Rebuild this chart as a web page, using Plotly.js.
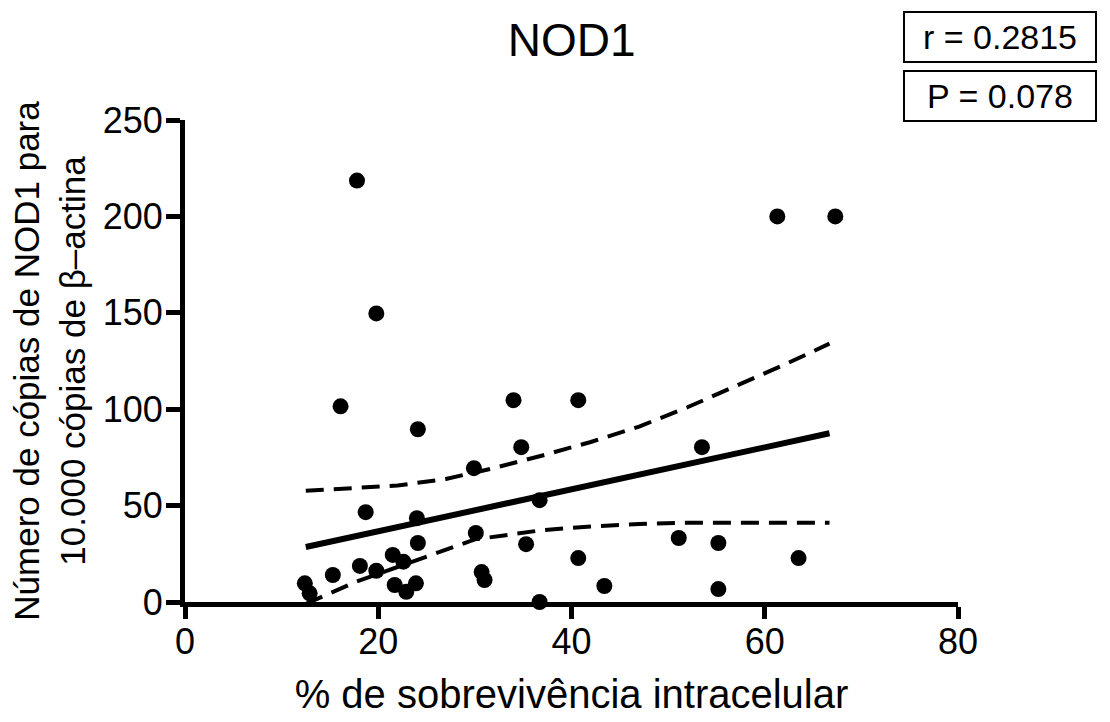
<!DOCTYPE html>
<html>
<head>
<meta charset="utf-8">
<script src="https://cdn.plot.ly/plotly-3.0.1.min.js"></script>
<style>html,body{margin:0;padding:0;background:#fff;}#chart{width:1110px;height:722px;}</style>
</head>
<body>
<div id="chart"></div>
<script>
// Scatter data: % intracellular survival vs NOD1 copies
const survival = [17.8, 19.8, 16.1, 61.3, 67.3, 24.1, 34.0, 40.7, 34.8, 53.5, 29.9, 36.7, 18.7, 24.0, 30.1, 24.1, 35.3, 51.1, 55.2, 40.7, 63.5, 30.7, 31.0, 43.4, 55.2, 36.7, 12.4, 12.9, 15.3, 18.1, 19.8, 21.5, 22.6, 21.7, 23.9, 22.9];
const nod1Copies = [218.6, 149.7, 101.5, 200, 200, 89.6, 104.7, 104.7, 80.3, 80.3, 69.4, 52.8, 46.6, 43.5, 35.8, 30.6, 30.0, 33.2, 30.6, 22.8, 22.8, 15.5, 11.4, 8.3, 6.7, 0, 9.7, 4.5, 14.0, 18.7, 16.2, 24.4, 20.9, 8.8, 9.7, 5.3];

// Regression line
const fitX = [12.5, 66.7];
const fitY = [28.5, 87.5];

// 95% confidence band
const upperX = [12.5, 17, 22, 27, 32, 37, 42, 47, 52, 57, 62, 66.7];
const upperY = [57.7, 58.8, 60.4, 63.8, 69.5, 76, 83, 91, 101, 112, 123, 134];
const lowerX = [12.5, 15, 17.7, 20.8, 23, 26.3, 30, 33, 37, 42, 47, 52, 57, 62, 66.7];
const lowerY = [-1, 4.5, 10.5, 16, 20, 26, 32.5, 34.5, 37.3, 39.2, 40.5, 41.1, 41.2, 41.2, 41.1];

const xTicks = [0, 20, 40, 60, 80];
const yTicks = [0, 50, 100, 150, 200, 250];

const rText = "r = 0.2815";
const pText = "P = 0.078";

const FONT = "Liberation Sans, Arial, sans-serif";

const traces = [
  {x: upperX, y: upperY, mode: "lines", line: {color: "#000", width: 4, dash: "18px,10px"}, hoverinfo: "skip", showlegend: false},
  {x: lowerX, y: lowerY, mode: "lines", line: {color: "#000", width: 4, dash: "18px,10px"}, hoverinfo: "skip", showlegend: false},
  {x: fitX, y: fitY, mode: "lines", line: {color: "#000", width: 6}, showlegend: false},
  {x: survival, y: nod1Copies, mode: "markers", marker: {color: "#000", size: 16}, cliponaxis: false, showlegend: false}
];

const layout = {
  width: 1110, height: 722,
  paper_bgcolor: "#fff", plot_bgcolor: "#fff",
  margin: {l: 185, r: 152, t: 120, b: 120},
  font: {family: FONT, color: "#000"},
  title: {text: "NOD1", font: {size: 46, family: FONT, color: "#000"}, x: 0.515, xanchor: "center", y: 0.945, yanchor: "middle"},
  xaxis: {
    range: [0, 80], tickvals: xTicks, ticktext: xTicks.map(String),
    showgrid: false, zeroline: false, showline: true, linecolor: "#000", linewidth: 5,
    ticks: "outside", ticklen: 12, tickwidth: 5, tickcolor: "#000", ticklabelstandoff: -8,
    tickfont: {size: 36, family: FONT, color: "#000"},
    title: {text: "% de sobrevivência intracelular", font: {size: 40, family: FONT, color: "#000"}, standoff: 20}
  },
  yaxis: {
    range: [0, 250], tickvals: yTicks, ticktext: yTicks.map(String),
    showgrid: false, zeroline: false, showline: true, linecolor: "#000", linewidth: 5,
    ticks: "outside", ticklen: 14, tickwidth: 5, tickcolor: "#000", ticklabelstandoff: -4,
    tickfont: {size: 36, family: FONT, color: "#000"},
    title: {text: "Número de cópias de NOD1 para<br>10.000 cópias de β–actina", font: {size: 35, family: FONT, color: "#000"}, standoff: 8}
  },
  annotations: [
    {text: rText, xref: "paper", yref: "paper", x: 1.054, y: 1.172, xanchor: "center", yanchor: "middle", showarrow: false,
     font: {size: 34, family: FONT, color: "#000"}, bordercolor: "#000", borderwidth: 2, borderpad: 3, width: 184, height: 42, bgcolor: "#fff"},
    {text: pText, xref: "paper", yref: "paper", x: 1.054, y: 1.050, xanchor: "center", yanchor: "middle", showarrow: false,
     font: {size: 34, family: FONT, color: "#000"}, bordercolor: "#000", borderwidth: 2, borderpad: 3, width: 184, height: 42, bgcolor: "#fff"}
  ]
};

Plotly.newPlot("chart", traces, layout, {displayModeBar: false, staticPlot: true});
</script>
</body>
</html>
